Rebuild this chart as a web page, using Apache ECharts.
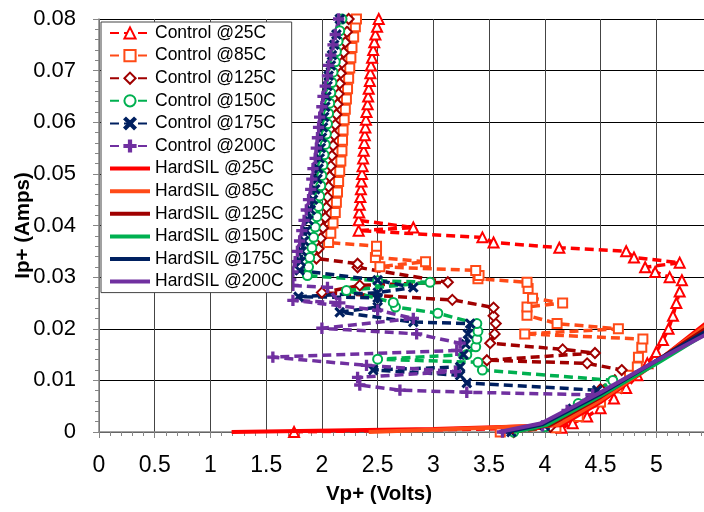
<!DOCTYPE html>
<html><head><meta charset="utf-8">
<script src="https://cdn.jsdelivr.net/npm/echarts@6/dist/echarts.min.js"></script>
<style>html,body{margin:0;padding:0;background:#fff}#c{width:704px;height:512px}</style>
</head><body><div id="c"></div>
<script>
// ---- data (V in volts, I in amps) ----
const xTicks = [0, 0.5, 1, 1.5, 2, 2.5, 3, 3.5, 4, 4.5, 5];
const yTicks = [0, 0.01, 0.02, 0.03, 0.04, 0.05, 0.06, 0.07, 0.08];
const seriesNames = ["Control @25C","Control @85C","Control @125C","Control @150C","Control @175C","Control @200C",
  "HardSIL @25C","HardSIL @85C","HardSIL @125C","HardSIL @150C","HardSIL @175C","HardSIL @200C"];

const ctrl25 = [[1.75,0],[4.15,0.0008],[4.25,0.0017],[4.38,0.0030],[4.50,0.0046],[4.62,0.0065],[4.73,0.0085],[4.83,0.0110],[4.92,0.0133],[5.00,0.0155],[5.06,0.0178],[5.11,0.0200],[5.15,0.0225],[5.18,0.0250],[5.21,0.0272],[5.23,0.0294],
  [5.12,0.0300],[4.99,0.0310],[4.90,0.0319],[5.21,0.0328],[4.80,0.0338],[4.73,0.0350],[4.13,0.0357],[3.54,0.0367],[3.44,0.0377],[2.33,0.0390],[2.82,0.0396],[2.33,0.0410],
  [2.335,0.0425],[2.34,0.0440],[2.345,0.0455],[2.35,0.0470],[2.355,0.0485],[2.36,0.0500],[2.365,0.0515],[2.37,0.0530],[2.375,0.0545],[2.38,0.0560],[2.385,0.0575],[2.39,0.0590],[2.395,0.0605],[2.40,0.0620],[2.41,0.0635],[2.415,0.0650],[2.42,0.0665],[2.43,0.0680],[2.435,0.0695],[2.44,0.0710],[2.45,0.0725],[2.46,0.0740],[2.47,0.0755],[2.48,0.0770],[2.495,0.0785],[2.51,0.0800]];

const ctrl85 = [[3.60,0],[4.10,0.0008],[4.30,0.0030],[4.50,0.0058],[4.65,0.0085],[4.76,0.0110],[4.83,0.0126],[4.84,0.0145],[4.87,0.0164],[4.88,0.0180],
  [3.82,0.0190],[4.66,0.0200],[4.11,0.0210],[3.84,0.0226],[3.84,0.0242],[4.16,0.0250],[3.89,0.0259],[3.85,0.0278],[3.84,0.0290],[3.40,0.0297],[3.41,0.0303],[3.38,0.0313],[2.52,0.0320],[2.93,0.0330],[2.48,0.0338],[2.49,0.0350],[2.49,0.0360],
  [2.06,0.0367],[2.08,0.0385],[2.10,0.0405],[2.12,0.0425],[2.13,0.0445],[2.14,0.0465],[2.15,0.0485],[2.16,0.0505],[2.17,0.0525],[2.18,0.0545],[2.185,0.0565],[2.19,0.0585],[2.20,0.0605],[2.21,0.0625],[2.22,0.0645],[2.23,0.0665],[2.24,0.0685],[2.25,0.0705],[2.26,0.0725],[2.27,0.0745],[2.285,0.0765],[2.30,0.0785],[2.31,0.0800]];

const ctrl125 = [[3.72,0],[4.05,0.0010],[4.30,0.0045],[4.50,0.0083],[4.69,0.0120],[4.38,0.0133],[3.48,0.0139],[4.45,0.0153],[4.16,0.0160],[3.51,0.0172],[3.55,0.0190],[3.56,0.0210],[3.54,0.0225],[3.54,0.0241],
  [3.17,0.0256],[2.00,0.0270],[2.34,0.0284],[3.13,0.0290],[2.32,0.0319],[2.32,0.0326],[1.95,0.0336],
  [1.97,0.0355],[1.99,0.0375],[2.01,0.0395],[2.03,0.0415],[2.04,0.0435],[2.05,0.0455],[2.06,0.0475],[2.07,0.0495],[2.08,0.0515],[2.09,0.0535],[2.10,0.0555],[2.11,0.0575],[2.12,0.0595],[2.13,0.0615],[2.14,0.0635],[2.15,0.0655],[2.16,0.0675],[2.17,0.0695],[2.18,0.0715],[2.195,0.0735],[2.21,0.0755],[2.225,0.0775],[2.24,0.0800]];

const ctrl150 = [[3.72,0],[4.00,0.0010],[4.30,0.0055],[4.61,0.0100],[3.44,0.0120],[3.40,0.0135],[2.50,0.0141],[3.30,0.0150],[3.38,0.0165],[3.39,0.0180],[3.40,0.0195],[3.39,0.0210],[3.04,0.0230],[2.66,0.0242],[2.64,0.0251],[2.22,0.0274],[2.97,0.0290],[2.50,0.0293],
  [1.87,0.0303],[1.88,0.0320],[1.89,0.0338],[1.91,0.0357],[1.925,0.0377],[1.94,0.0397],[1.955,0.0417],[1.97,0.0437],[1.98,0.0457],[1.99,0.0477],[2.00,0.0497],[2.01,0.0517],[2.02,0.0537],[2.03,0.0557],[2.04,0.0577],[2.05,0.0597],[2.06,0.0617],[2.07,0.0637],[2.08,0.0657],[2.09,0.0677],[2.10,0.0697],[2.12,0.0717],[2.13,0.0737],[2.145,0.0757],[2.16,0.0777],[2.18,0.0800]];

const ctrl175 = [[3.70,0],[4.00,0.0012],[4.25,0.0045],[4.47,0.0081],[3.30,0.0095],[3.24,0.0110],[2.46,0.0120],[3.24,0.0126],[3.27,0.0150],[3.29,0.0170],[3.31,0.0190],[3.33,0.0210],[2.82,0.0213],[2.16,0.0232],[2.50,0.0242],[2.50,0.0260],[1.79,0.0262],[2.50,0.0270],[2.82,0.0280],[2.50,0.0294],
  [1.80,0.0313],[1.81,0.0330],[1.82,0.0350],[1.84,0.0370],[1.86,0.0390],[1.88,0.0410],[1.90,0.0430],[1.92,0.0450],[1.94,0.0470],[1.96,0.0490],[1.97,0.0510],[1.98,0.0530],[1.99,0.0550],[2.00,0.0570],[2.01,0.0590],[2.02,0.0610],[2.03,0.0630],[2.04,0.0650],[2.05,0.0670],[2.06,0.0690],[2.08,0.0710],[2.09,0.0730],[2.11,0.0750],[2.13,0.0770],[2.16,0.0800]];

const ctrl200 = [[3.62,0],[3.98,0.0012],[4.20,0.0042],[4.43,0.0072],[3.30,0.0077],[2.70,0.0081],[2.34,0.0091],[2.32,0.0106],[3.20,0.0117],[2.40,0.0129],[1.56,0.0145],[3.21,0.0158],[3.24,0.0172],[2.85,0.0190],[2.00,0.0201],[2.82,0.0220],[2.50,0.0236],[1.74,0.0255],[2.16,0.0250],[2.05,0.0280],[1.74,0.0284],
  [1.72,0.0295],[1.74,0.0310],[1.76,0.0330],[1.78,0.0350],[1.80,0.0370],[1.82,0.0390],[1.84,0.0410],[1.86,0.0430],[1.88,0.0450],[1.90,0.0470],[1.91,0.0490],[1.92,0.0510],[1.94,0.0530],[1.95,0.0550],[1.96,0.0570],[1.97,0.0590],[1.98,0.0610],[2.00,0.0630],[2.01,0.0650],[2.03,0.0670],[2.05,0.0690],[2.06,0.0710],[2.08,0.0730],[2.10,0.0750],[2.12,0.0770],[2.15,0.0800]];

const hard25  = [[1.19,0],[3.00,0.0006],[4.15,0.0013],[4.50,0.0058],[5.00,0.0135],[5.50,0.0220]];
const hard85  = [[2.42,0],[3.50,0.0008],[4.12,0.0014],[4.50,0.0062],[5.00,0.0136],[5.50,0.0215]];
const hard125 = [[3.70,0],[4.05,0.0014],[4.50,0.0068],[5.00,0.0137],[5.50,0.0208]];
const hard150 = [[3.72,0],[4.02,0.0014],[4.50,0.0070],[5.00,0.0132],[5.50,0.0198]];
const hard175 = [[3.65,0],[3.98,0.0015],[4.50,0.0074],[5.00,0.0138],[5.50,0.0202]];
const hard200 = [[3.59,0],[3.97,0.0017],[4.50,0.0077],[5.00,0.0138],[5.50,0.0195]];

// ---- styling ----
const colors = ["#ff0000","#ff4a17","#a00000","#00b050","#002060","#7030a0"];
const PLUS = 'path://M4,0 L6,0 L6,4 L10,4 L10,6 L6,6 L6,10 L4,10 L4,6 L0,6 L0,4 L4,4 Z';
const CROSS = 'path://M0,1.4 L1.4,0 L5,3.6 L8.6,0 L10,1.4 L6.4,5 L10,8.6 L8.6,10 L5,6.4 L1.4,10 L0,8.6 L3.6,5 Z';
const BAR = 'path://M0,0 L40,0 L40,4 L0,4 Z';
const symbols = ['emptyTriangle','emptyRect','emptyDiamond','emptyCircle',CROSS,PLUS];
const symSizes = [10,9,10,9,9,10];
const ctrlData = [ctrl25, ctrl85, ctrl125, ctrl150, ctrl175, ctrl200];
const hardData = [hard25, hard85, hard125, hard150, hard175, hard200];
const FONT = 'Liberation Sans';

const series = [];
ctrlData.forEach((d, i) => {
  series.push({
    name: seriesNames[i], type: 'line', data: d, color: colors[i],
    symbol: symbols[i], symbolSize: symSizes[i], showAllSymbol: true,
    lineStyle: { width: 3.5, type: [9, 5], color: colors[i] },
    itemStyle: { color: colors[i], borderColor: colors[i], borderWidth: 1.3 },
    animation: false, z: 2
  });
});
hardData.forEach((d, i) => {
  series.push({
    name: seriesNames[6 + i], type: 'line', data: d, color: colors[i],
    symbol: 'none', lineStyle: { width: 4, color: colors[i] },
    itemStyle: { color: colors[i] }, animation: false, z: 3
  });
});

const legendData = seriesNames.map((n, i) => i < 6 ? { name: n } : { name: n, icon: BAR });

const chart = echarts.init(document.getElementById('c'), null, { renderer: 'canvas' });
chart.setOption({
  backgroundColor: '#fff',
  animation: false,
  grid: { left: 99, top: 19, height: 413, width: 613, containLabel: false, outerBoundsMode: 'none' },
  legend: {
    orient: 'vertical', left: 101, top: 22, z: 10,
    backgroundColor: '#fff', borderColor: '#444', borderWidth: 1,
    padding: [2, 8, 2, 8],
    itemWidth: 40, itemHeight: 14, itemGap: 4.6,
    textStyle: { fontFamily: FONT, fontSize: 17.5, lineHeight: 18, color: '#000' },
    data: legendData
  },
  xAxis: {
    type: 'value', min: 0, max: 5.5, interval: 0.5,
    name: 'Vp+ (Volts)', nameLocation: 'middle', nameGap: 52, nameMoveOverlap: false,
    nameTextStyle: { fontFamily: FONT, fontSize: 20.5, fontWeight: 'bold', color: '#000', padding: [0, 53, 0, 0] },
    axisLine: { show: true, lineStyle: { color: '#868686', width: 1.5 } },
    axisTick: { show: true, length: 6, lineStyle: { color: '#868686' } },
    minorTick: { show: true, splitNumber: 5, length: 4, lineStyle: { color: '#868686' } },
    splitLine: { show: true, lineStyle: { color: '#444', width: 1 } },
    axisLabel: { margin: 22, fontFamily: FONT, fontSize: 23, color: '#000',
      showMaxLabel: false,
      formatter: v => xTicks.indexOf(v) >= 0 ? String(v) : '' }
  },
  yAxis: {
    type: 'value', min: 0, max: 0.08, interval: 0.01,
    name: 'Ip+ (Amps)', nameLocation: 'middle', nameGap: 65, nameRotate: 90, nameMoveOverlap: false,
    nameTextStyle: { fontFamily: FONT, fontSize: 20.5, fontWeight: 'bold', color: '#000' },
    axisLine: { show: true, lineStyle: { color: '#868686', width: 1.5 } },
    axisTick: { show: true, length: 6, lineStyle: { color: '#868686' } },
    minorTick: { show: true, splitNumber: 5, length: 4, lineStyle: { color: '#868686' } },
    splitLine: { show: true, lineStyle: { color: '#000', width: 1 } },
    axisLabel: { margin: 23, fontFamily: FONT, fontSize: 22, color: '#000',
      formatter: v => { const t = yTicks.find(y => Math.abs(y - v) < 1e-9); return t === undefined ? '' : (t === 0 ? '0' : t.toFixed(2)); } }
  },
  series: series
});
</script></body></html>
